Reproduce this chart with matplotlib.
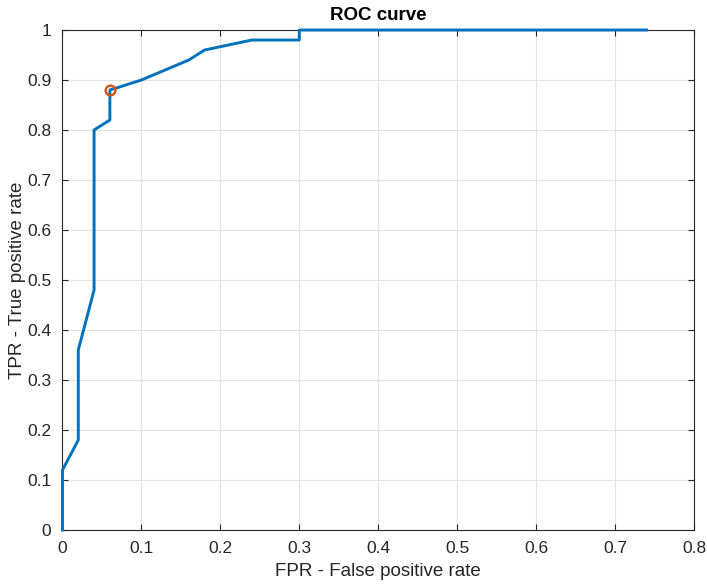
import numpy as np
import matplotlib.pyplot as plt

plt.rcParams['font.family'] = ['Liberation Sans', 'DejaVu Sans']

# ROC curve points
fpr = [0, 0, 0.02, 0.02, 0.04, 0.04, 0.06, 0.06, 0.10, 0.16, 0.18, 0.24, 0.30, 0.30, 0.74]
tpr = [0, 0.12, 0.18, 0.36, 0.48, 0.80, 0.82, 0.88, 0.90, 0.94, 0.96, 0.98, 0.98, 1.0, 1.0]
# optimal operating point
opt_fpr = [0.06]
opt_tpr = [0.88]

xticks = np.arange(0, 0.81, 0.1)
yticks = np.arange(0, 1.01, 0.1)

fig = plt.figure(figsize=(7.07, 5.85), dpi=100)
ax = fig.add_axes([0.0884, 0.094, 0.8932, 0.8547])

ax.plot(fpr, tpr, color="#0072BD", linewidth=2.1, clip_on=False, zorder=5)
ax.plot(opt_fpr, opt_tpr, 'o', markersize=7, markerfacecolor='none',
        markeredgecolor="#D95319", markeredgewidth=1.7, zorder=6)

ax.set_xlim(0, 0.8)
ax.set_ylim(0, 1)
ax.set_xticks(xticks)
ax.set_yticks(yticks)
ax.set_xticklabels([f"{v:g}" for v in np.round(xticks, 1)])
ax.set_yticklabels([f"{v:g}" for v in np.round(yticks, 1)])

ax.grid(True, color="#e3e3e3", linewidth=0.8)
ax.set_axisbelow(True)
for s in ax.spines.values():
    s.set_color("#262626")
    s.set_linewidth(0.8)
ax.tick_params(direction='in', top=True, right=True, length=4, width=0.8,
               colors="#262626", labelsize=12.5, labelcolor="#262626", pad=8)

ax.set_title("ROC curve", fontsize=13.5, fontweight='bold', color="black", pad=7)
ax.set_xlabel("FPR - False positive rate", fontsize=13.5, color="#262626", labelpad=5)
ax.set_ylabel("TPR - True positive rate", fontsize=13.5, color="#262626", labelpad=1)

plt.savefig("out.png", dpi=100)
